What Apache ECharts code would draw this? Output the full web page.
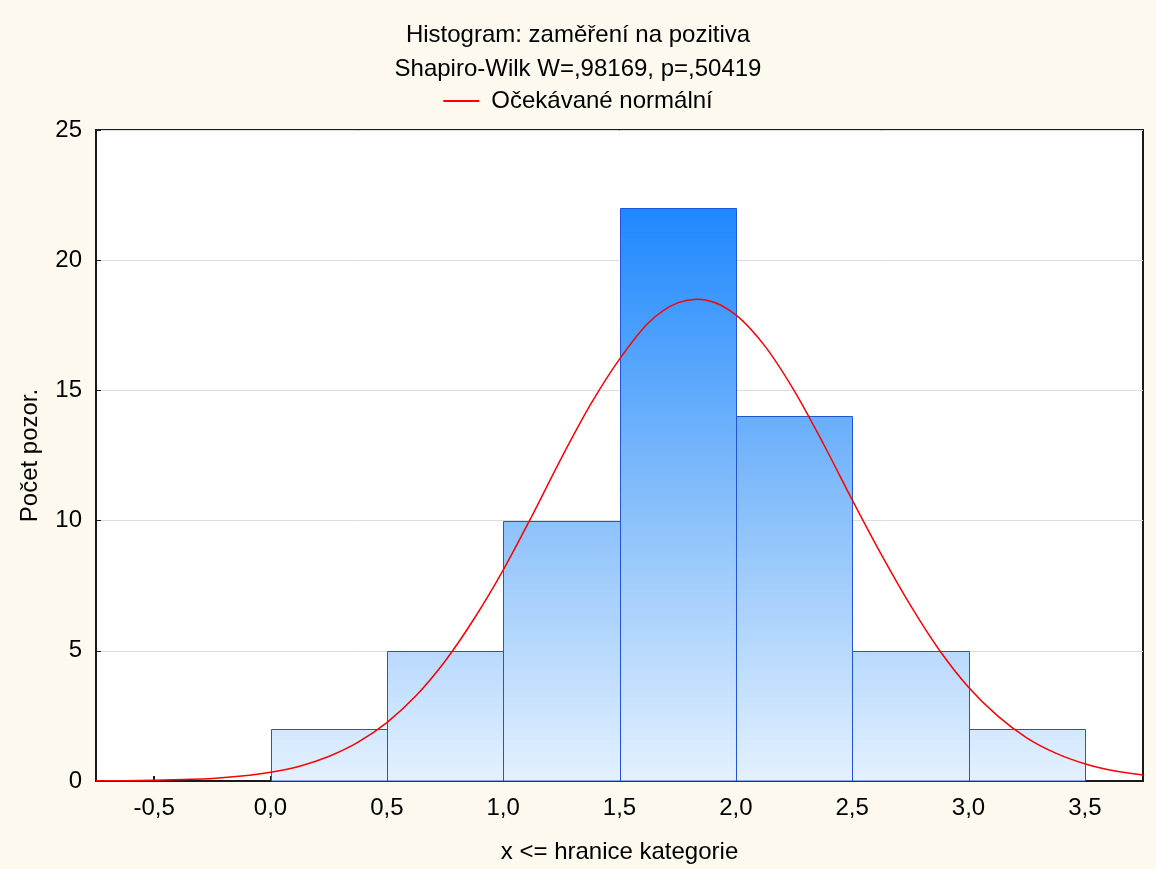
<!DOCTYPE html>
<html>
<head>
<meta charset="utf-8">
<script src="https://cdn.jsdelivr.net/npm/echarts@6/dist/echarts.min.js"></script>
<style>
html,body{margin:0;padding:0;background:#FDF9EF;}
#chart{width:1156px;height:869px;}
</style>
</head>
<body>
<div id="chart"></div>
<script>
// Histogram data
const binStarts = [0.0, 0.5, 1.0, 1.5, 2.0, 2.5, 3.0];
const binEnds   = [0.5, 1.0, 1.5, 2.0, 2.5, 3.0, 3.5];
const counts    = [2, 5, 10, 22, 14, 5, 2];

// Expected normal curve
const curveX = [-0.75,-0.625,-0.5,-0.375,-0.25,-0.125,0,0.125,0.25,0.375,0.5,0.625,0.75,0.875,1.0,1.125,1.25,1.375,1.5,1.625,1.75,1.875,2.0,2.125,2.25,2.375,2.5,2.625,2.75,2.875,3.0,3.125,3.25,3.375,3.5,3.625,3.75];
const curveY = [0.01,0.01,0.03,0.06,0.1,0.19,0.34,0.57,0.94,1.48,2.24,3.27,4.6,6.23,8.1,10.2,12.4,14.45,16.2,17.6,18.36,18.46,17.9,16.7,15.0,12.97,10.8,8.7,6.75,5.02,3.6,2.5,1.66,1.07,0.66,0.39,0.23];

const xTicks = [-0.5, 0.0, 0.5, 1.0, 1.5, 2.0, 2.5, 3.0, 3.5];
const yTicks = [0, 5, 10, 15, 20, 25];

const titleText = 'Histogram: zaměření na pozitiva';
const subText = 'Shapiro-Wilk W=,98169, p=,50419';
const legendName = 'Očekávané normální';
const xName = 'x <= hranice kategorie';
const yName = 'Počet pozor.';

const FONT = '"Liberation Sans", Arial, sans-serif';
const FS = 24;

const chart = echarts.init(document.getElementById('chart'), null, {renderer: 'canvas'});

const barData = binStarts.map((s, i) => [s, binEnds[i], counts[i]]);
const lineData = curveX.map((x, i) => [x, curveY[i]]);
const maxCount = Math.max.apply(null, counts);

const fmt = v => v.toFixed(1).replace('.', ',');

// Smooth curve through the data points (Catmull-Rom), mapped with the axis scales
function renderCurve(params, api) {
  if (params.dataIndex !== 0) return null;
  const pts = lineData.map(d => api.coord(d));
  const n = pts.length;
  let d = 'M' + pts[0][0] + ' ' + pts[0][1];
  for (let i = 0; i < n - 1; i++) {
    const p0 = pts[Math.max(i - 1, 0)];
    const p1 = pts[i];
    const p2 = pts[i + 1];
    const p3 = pts[Math.min(i + 2, n - 1)];
    const c1x = p1[0] + (p2[0] - p0[0]) / 6;
    const c1y = p1[1] + (p2[1] - p0[1]) / 6;
    const c2x = p2[0] - (p3[0] - p1[0]) / 6;
    const c2y = p2[1] - (p3[1] - p1[1]) / 6;
    d += ' C' + c1x + ' ' + c1y + ' ' + c2x + ' ' + c2y + ' ' + p2[0] + ' ' + p2[1];
  }
  return {
    type: 'path',
    shape: {pathData: d},
    style: {fill: null, stroke: '#FF0000', lineWidth: 1.5}
  };
}

chart.setOption({
  backgroundColor: '#FDF9EF',
  animation: false,
  title: [
    {text: titleText, left: 'center', top: 16,
     textStyle: {fontFamily: FONT, fontSize: FS, fontWeight: 'normal', color: '#000', lineHeight: 28}},
    {text: subText, left: 'center', top: 50,
     textStyle: {fontFamily: FONT, fontSize: FS, fontWeight: 'normal', color: '#000', lineHeight: 28}}
  ],
  legend: {
    top: 82, left: 'center',
    itemWidth: 36, itemHeight: 2, itemGap: 10,
    data: [{name: legendName, icon: 'rect'}],
    textStyle: {fontFamily: FONT, fontSize: FS, color: '#000', lineHeight: 28, padding: [0, 0, 0, 7]}
  },
  grid: {
    left: 96, right: 13, top: 130, bottom: 88,
    show: true, backgroundColor: '#FFFFFF', borderColor: '#1a1a1a', borderWidth: 2
  },
  xAxis: {
    type: 'value', min: -0.75, max: 3.75,
    name: xName, nameLocation: 'middle', nameGap: 59,
    nameTextStyle: {fontFamily: FONT, fontSize: FS, color: '#000'},
    axisLine: {show: true, onZero: false, lineStyle: {color: '#1a1a1a', width: 2}},
    axisTick: {show: true, inside: true, length: 5, customValues: xTicks, lineStyle: {color: '#1a1a1a', width: 2}},
    axisLabel: {customValues: xTicks, formatter: fmt, margin: 15,
      fontFamily: FONT, fontSize: FS, color: '#000'},
    splitLine: {show: false}
  },
  yAxis: {
    type: 'value', min: 0, max: 25, interval: 5,
    name: yName, nameLocation: 'middle', nameGap: 54, nameRotate: 90,
    nameTextStyle: {fontFamily: FONT, fontSize: FS, color: '#000'},
    axisLine: {show: true, onZero: false, lineStyle: {color: '#1a1a1a', width: 2}},
    axisTick: {show: true, inside: true, length: 5, lineStyle: {color: '#1a1a1a', width: 1}},
    axisLabel: {margin: 14, fontFamily: FONT, fontSize: FS, color: '#000',
      customValues: yTicks},
    splitLine: {show: true, lineStyle: {color: '#dcdcdc', width: 1}}
  },
  series: [
    {
      type: 'custom',
      name: 'bars',
      data: barData,
      encode: {x: [0, 1], y: 2},
      z: 2,
      renderItem: function (params, api) {
        const p0 = api.coord([api.value(0), 0]);
        const p1 = api.coord([api.value(1), api.value(2)]);
        const gTop = api.coord([0, maxCount])[1];
        const gBot = api.coord([0, 0])[1];
        const x0 = Math.round(p0[0]) + 0.5;
        const x1 = Math.round(p1[0]) + 0.5;
        const yT = Math.round(p1[1]) + 0.5;
        const yB = Math.round(p0[1]);
        return {
          type: 'rect',
          shape: {x: x0, y: yT, width: x1 - x0, height: yB - yT},
          style: {
            fill: new echarts.graphic.LinearGradient(0, gTop, 0, gBot, [
              {offset: 0, color: '#1E88FF'},
              {offset: 0.5, color: '#84BDFA'},
              {offset: 1, color: '#E4F1FF'}
            ], true),
            stroke: '#2255D5',
            lineWidth: 1
          }
        };
      }
    },
    {
      type: 'custom',
      name: legendName,
      data: lineData,
      encode: {x: 0, y: 1},
      z: 5,
      itemStyle: {color: '#FF0000'},
      renderItem: renderCurve
    }
  ]
});
</script>
</body>
</html>
